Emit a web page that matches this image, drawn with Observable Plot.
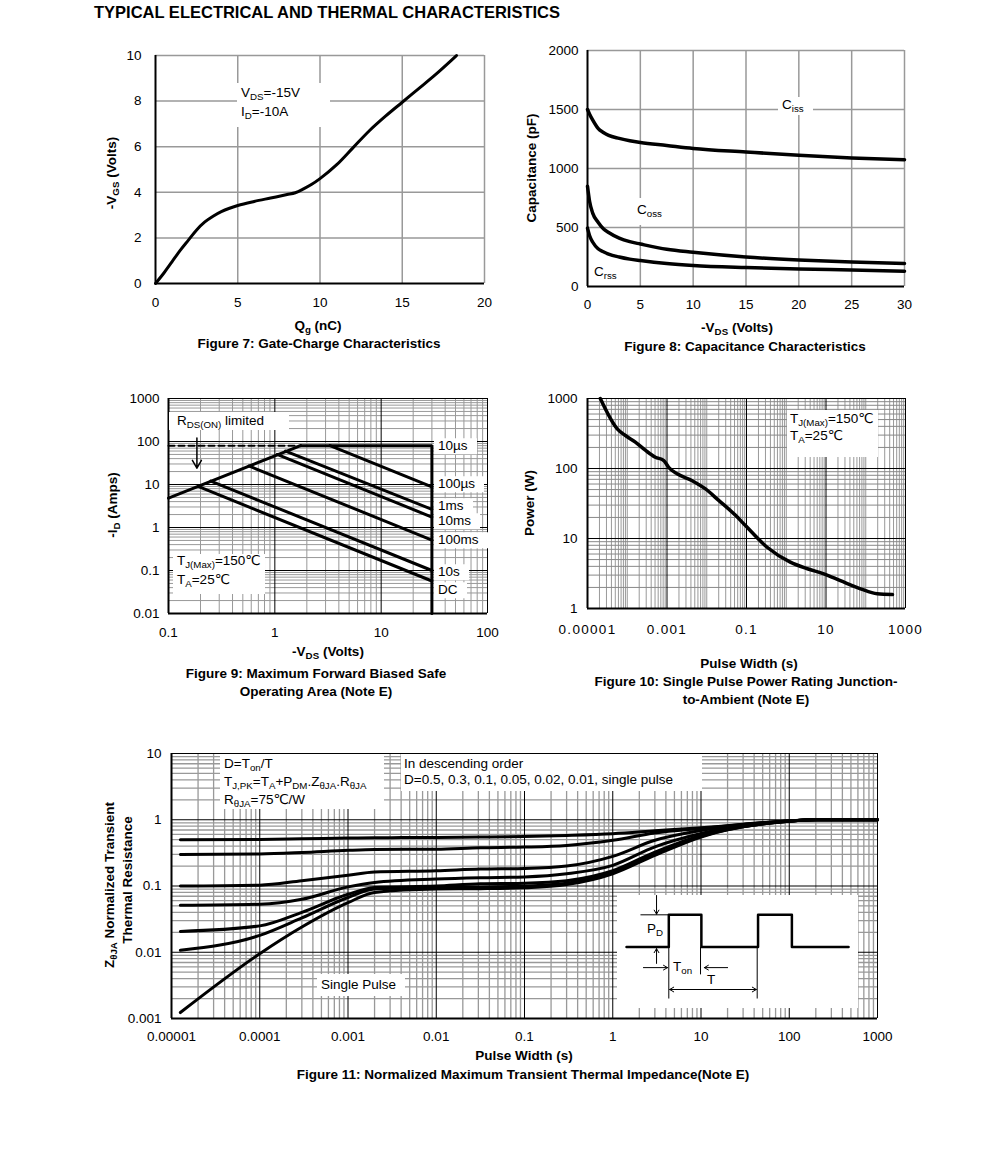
<!DOCTYPE html>
<html><head><meta charset="utf-8">
<script src="https://cdn.jsdelivr.net/npm/d3@7"></script>
<script src="https://cdn.jsdelivr.net/npm/@observablehq/plot@0.6"></script>
<style>
body{margin:0;background:#fff;}
#page{position:relative;width:991px;height:1151px;font-family:"Liberation Sans",Arial,"DejaVu Sans",sans-serif;color:#000;overflow:hidden;background:#fff;}
.t{position:absolute;white-space:nowrap;line-height:1;font-size:13.5px;}
.c{transform:translate(-50%,-50%);}
.l{transform:translate(0,-50%);}
.rot{transform:translate(-50%,-50%) rotate(-90deg);}
.b{font-weight:bold;}
.box{position:absolute;background:#fff;}
sub{font-size:0.72em;vertical-align:-0.3em;line-height:0;}
</style></head><body><div id="page"></div>
<script>
// ---------- DATA ----------
// Figure 7: Gate charge
const qgNC   = [0,0.5,1,1.5,2,2.5,3,3.5,4,4.5,5,6,7,8,8.5,9,9.5,10,11,12,13,14,15,16,17,18,18.3];
const vgsVolt= [0,0.45,0.95,1.45,1.9,2.35,2.7,2.95,3.15,3.3,3.42,3.6,3.75,3.9,3.98,4.15,4.35,4.6,5.2,5.95,6.7,7.35,7.95,8.55,9.15,9.8,10];
const fig7XTicks = [0,5,10,15,20];
const fig7YTicks = [0,2,4,6,8,10];

// Figure 8: Capacitance
const vdsCap = [0,0.2,0.5,1,1.5,2,3,4,5,7.5,10,15,20,25,30];
const cissPF = [1500,1460,1410,1340,1305,1280,1255,1235,1220,1195,1170,1140,1112,1090,1075];
const cossPF = [850,720,620,545,490,458,410,380,360,315,290,250,225,208,195];
const crssPF = [495,430,375,320,295,275,250,232,220,195,178,160,148,140,130];
const fig8XTicks = [0,5,10,15,20,25,30];
const fig8YTicks = [0,500,1000,1500,2000];

// Figure 9: Safe operating area  [V, I] end points
const soaRdsLine = [[0.1,4.8],[1.75,80]];
const soaRdsDash = [[0.1,80],[1.75,80]];
const soaLimit   = [[1.75,80],[30,80],[30,0.01]];
const soa100us   = [[3.3,80],[30,8.8]];
const soa1ms     = [[1.26,60],[30,2.65]];
const soa10ms    = [[1.05,50],[30,1.75]];
const soa100ms   = [[0.57,27],[30,0.51]];
const soa10s     = [[0.25,12],[30,0.1]];
const soaDC      = [[0.19,9],[30,0.057]];
const soaArrow   = [[0.185,120,0.185,24]];
const fig9XTicks = [0.1,1,10,100];
const fig9XLabels= ["0.1","1","10","100"];
const fig9YTicks = [0.01,0.1,1,10,100,1000];
const fig9YLabels= ["0.01","0.1","1","10","100","1000"];
const soaLabels  = ["10\u00b5s","100\u00b5s","1ms","10ms","100ms","10s","DC"];

// Figure 10: Single pulse power
const pulseWidthS = [2.1e-5,5.6e-5,9e-5,1.6e-4,2.9e-4,5.1e-4,8.3e-4,1.1e-3,1.8e-3,4.3e-3,9.3e-3,0.02,0.053,0.094,0.33,1.26,3.4,8.8,23,74,194,470];
const powerW      = [1000,369,296,238,181,145,130,104,84,67,51,35,21.4,15.3,7.5,4.6,3.7,3.13,2.5,1.91,1.62,1.58];
const fig10XTicks = [1e-5,1e-3,0.1,10,1000];
const fig10XLabels= ["0.00001","0.001","0.1","10","1000"];
const fig10YTicks = [1,10,100,1000];
const fig10YLabels= ["1","10","100","1000"];

// Figure 11: Transient thermal impedance
const zTime   = [1.26e-5,1e-4,3e-4,1e-3,2e-3,0.01,0.0316,0.1,0.3,1,3,10,100,200,1000];
const zD05    = [0.5,0.505,0.515,0.53,0.535,0.54,0.547,0.56,0.58,0.615,0.68,0.76,0.96,1.0,1.0];
const zD03    = [0.3,0.305,0.32,0.345,0.355,0.36,0.378,0.387,0.41,0.49,0.63,0.74,0.96,1.0,1.0];
const zD01    = [0.1,0.103,0.12,0.145,0.163,0.17,0.18,0.184,0.2,0.28,0.49,0.69,0.96,1.0,1.0];
const zD005   = [0.051,0.053,0.063,0.097,0.113,0.127,0.133,0.137,0.153,0.205,0.39,0.62,0.96,1.0,1.0];
const zD002   = [0.0206,0.025,0.04,0.075,0.095,0.1,0.108,0.11,0.12,0.17,0.325,0.58,0.95,1.0,1.0];
const zD001   = [0.0107,0.018,0.033,0.067,0.09,0.095,0.096,0.1,0.11,0.16,0.31,0.56,0.95,1.0,1.0];
const zSingle = [0.00123,0.0095,0.024,0.056,0.08,0.09,0.091,0.094,0.105,0.153,0.29,0.55,0.95,1.0,1.0];
const fig11XTicks = [1e-5,1e-4,1e-3,0.01,0.1,1,10,100,1000];
const fig11XLabels= ["0.00001","0.0001","0.001","0.01","0.1","1","10","100","1000"];
const fig11YTicks = [0.001,0.01,0.1,1,10];
const fig11YLabels= ["0.001","0.01","0.1","1","10"];

// Figure 11 inset (schematic units)
const pulseT = [0,1,1,1.77,1.77,3.11,3.11,3.91,3.91,5.25];
const pulseP = [0,0,1,1,0,0,1,1,0,0];
const insetGuides = [[1,-1.6,1,0],[1.75,-0.85,1.75,0],[3.09,-1.6,3.09,0],[0.33,1,1,1]];
const insetArrows = [[0.71,1.6,0.71,1.02],[0.71,-0.51,0.71,-0.05],[0.40,-0.64,0.97,-0.64],[2.39,-0.64,1.84,-0.64],[2.05,-1.32,1.02,-1.32],[2.05,-1.32,3.07,-1.32]];

// ---------- HELPERS ----------
const page = document.getElementById("page");
const FONT = '"Liberation Sans", Arial, "DejaVu Sans", sans-serif';
const baseStyle = {fontFamily: FONT, fontSize: "13.5px", background: "transparent", overflow: "visible", color: "#000"};
function place(svg, left, top) {
  svg.style.position = "absolute"; svg.style.left = left + "px"; svg.style.top = top + "px";
  page.appendChild(svg); return svg;
}
function txt(html, x, y, cls, extra) {
  const d = document.createElement("div");
  d.className = "t " + (cls || "");
  d.style.left = x + "px"; d.style.top = y + "px";
  if (extra) Object.assign(d.style, extra);
  d.innerHTML = html; page.appendChild(d); return d;
}
function box(x1, y1, x2, y2) {
  const d = document.createElement("div");
  d.className = "box";
  Object.assign(d.style, {left: x1 + "px", top: y1 + "px", width: (x2 - x1) + "px", height: (y2 - y1) + "px"});
  page.appendChild(d); return d;
}
function logMinor(lo, hi) {
  const out = [];
  for (let e = Math.round(Math.log10(lo)); e < Math.round(Math.log10(hi)); e++) {
    for (let k = 1; k <= 9; k++) out.push(k * Math.pow(10, e));
  }
  out.push(hi);
  return out;
}
const fmt = (ticks, labels) => d => { const i = ticks.findIndex(t => Math.abs(t - d) / t < 1e-6 || t === d); return i >= 0 ? labels[i] : ""; };
const plain = d => String(d);

// ---------- TITLE ----------
txt("TYPICAL ELECTRICAL AND THERMAL CHARACTERISTICS", 94, 12, "l b", {fontSize: "16.5px"});

// ---------- FIGURE 7 ----------
const gateData = qgNC.map((q, i) => ({q, v: vgsVolt[i]}));
place(Plot.plot({
  width: 400, height: 280, marginLeft: 55, marginRight: 16, marginTop: 15, marginBottom: 37,
  x: {domain: [0, 20]}, y: {domain: [0, 10]}, style: baseStyle,
  marks: [
    Plot.ruleX(fig7XTicks.filter(d => d > 0), {stroke: "#999", strokeWidth: 1.5}),
    Plot.ruleY(fig7YTicks.filter(d => d > 0), {stroke: "#999", strokeWidth: 1.5}),
    Plot.ruleX([0], {stroke: "#000", strokeWidth: 2}),
    Plot.ruleY([0], {stroke: "#000", strokeWidth: 2}),
    Plot.axisX(fig7XTicks, {tickSize: 0, tickPadding: 14, label: null, tickFormat: plain}),
    Plot.axisY(fig7YTicks, {tickSize: 0, tickPadding: 14, label: null, tickFormat: plain}),
    Plot.line(gateData, {x: "q", y: "v", stroke: "#000", strokeWidth: 3, strokeLinejoin: "round", curve: "monotone-x"})
  ]
}), 100, 40);
box(237, 83, 330, 127);
txt("V<sub>DS</sub>=-15V", 241, 93, "l");
txt("I<sub>D</sub>=-10A", 241, 112, "l");
txt("-V<sub>GS</sub> (Volts)", 112, 173, "rot b");
txt("Q<sub>g</sub> (nC)", 318, 326, "c b");
txt("Figure 7: Gate-Charge Characteristics", 319, 344, "c b");

// ---------- FIGURE 8 ----------
const capData = [
  ...vdsCap.map((v, i) => ({v, c: cissPF[i], s: "Ciss"})),
  ...vdsCap.map((v, i) => ({v, c: cossPF[i], s: "Coss"})),
  ...vdsCap.map((v, i) => ({v, c: crssPF[i], s: "Crss"}))
];
place(Plot.plot({
  width: 400, height: 280, marginLeft: 67, marginRight: 16, marginTop: 10, marginBottom: 34,
  x: {domain: [0, 30]}, y: {domain: [0, 2000]}, style: baseStyle,
  marks: [
    Plot.ruleX(fig8XTicks.filter(d => d > 0), {stroke: "#999", strokeWidth: 1.5}),
    Plot.ruleY(fig8YTicks.filter(d => d > 0), {stroke: "#999", strokeWidth: 1.5}),
    Plot.ruleX([0], {stroke: "#000", strokeWidth: 2}),
    Plot.ruleY([0], {stroke: "#000", strokeWidth: 2}),
    Plot.axisX(fig8XTicks, {tickSize: 0, tickPadding: 13, label: null, tickFormat: plain}),
    Plot.axisY(fig8YTicks, {tickSize: 0, tickPadding: 9, label: null, tickFormat: plain}),
    Plot.line(capData, {x: "v", y: "c", z: "s", stroke: "#000", strokeWidth: 3.5, curve: "monotone-x"})
  ]
}), 520, 40);
box(778, 97, 813, 115);
txt("C<sub>iss</sub>", 782, 105, "l");
box(634, 198, 665, 225);
txt("C<sub>oss</sub>", 637, 210, "l");
txt("C<sub>rss</sub>", 594, 272, "l");
txt("Capacitance (pF)", 532, 168, "rot b");
txt("-V<sub>DS</sub> (Volts)", 737, 328, "c b");
txt("Figure 8: Capacitance Characteristics", 745, 347, "c b");

// ---------- FIGURE 9 ----------
const soaCurves = [soaRdsLine, soa100us, soa1ms, soa10ms, soa100ms, soa10s, soaDC, soaLimit];
const soaRows = soaCurves.flatMap((c, k) => c.map(p => ({v: p[0], i: p[1], k})));
const f9xMinor = logMinor(0.1, 100).filter(d => !fig9XTicks.some(t => Math.abs(t - d) / t < 1e-9));
const f9yMinor = logMinor(0.01, 1000).filter(d => !fig9YTicks.some(t => Math.abs(t - d) / t < 1e-9));
place(Plot.plot({
  width: 400, height: 260, marginLeft: 68, marginRight: 13, marginTop: 13, marginBottom: 32,
  x: {type: "log", domain: [0.1, 100]}, y: {type: "log", domain: [0.01, 1000]}, style: baseStyle,
  marks: [
    Plot.ruleX(f9xMinor, {stroke: "#999", strokeWidth: 1}),
    Plot.ruleY(f9yMinor, {stroke: "#999", strokeWidth: 1}),
    Plot.ruleX(fig9XTicks, {stroke: "#000", strokeWidth: 1}),
    Plot.ruleY(fig9YTicks, {stroke: "#000", strokeWidth: 1}),
    Plot.ruleX([0.1], {stroke: "#000", strokeWidth: 2}),
    Plot.ruleY([0.01], {stroke: "#000", strokeWidth: 2}),
    Plot.axisX(fig9XTicks, {tickSize: 0, tickPadding: 14, label: null, tickFormat: fmt(fig9XTicks, fig9XLabels)}),
    Plot.axisY(fig9YTicks, {tickSize: 0, tickPadding: 9, label: null, tickFormat: fmt(fig9YTicks, fig9YLabels)}),
    Plot.line(soaRdsDash, {x: d => d[0], y: d => d[1], stroke: "#000", strokeWidth: 2, strokeDasharray: "6,4"}),
    Plot.line(soaRows, {x: "v", y: "i", z: "k", stroke: "#000", strokeWidth: 3, strokeLinejoin: "miter"}),
    Plot.arrow(soaArrow, {x1: d => d[0], y1: d => d[1], x2: d => d[2], y2: d => d[3], stroke: "#000", strokeWidth: 1.5, headLength: 9})
  ]
}), 100, 385);
box(169, 412, 289, 430);
txt("R<sub>DS(ON)</sub> limited", 177, 421, "l");
const soaLabelY = [446, 484, 506, 521, 540, 572, 590];
soaLabels.forEach((s, i) => txt(s, 434, soaLabelY[i], "l", {background: "#fff", padding: "1px 9px 1px 4px"}));
box(173, 554, 265, 594);
txt("T<sub>J(Max)</sub>=150\u2103", 177, 561, "l");
txt("T<sub>A</sub>=25\u2103", 177, 580, "l");
txt("-I<sub>D</sub> (Amps)", 113, 505, "rot b");
txt("-V<sub>DS</sub> (Volts)", 328, 652, "c b");
txt("Figure 9: Maximum Forward Biased Safe", 316, 674, "c b");
txt("Operating Area (Note E)", 316, 692, "c b");

// ---------- FIGURE 10 ----------
const powerData = pulseWidthS.map((t, i) => ({t, p: powerW[i]}));
const f10xMinor = logMinor(1e-5, 1000).filter(d => !fig10XTicks.some(t => Math.abs(t - d) / t < 1e-9));
const f10yMinor = logMinor(1, 1000).filter(d => !fig10YTicks.includes(d));
const fig10 = place(Plot.plot({
  width: 400, height: 260, marginLeft: 67, marginRight: 15, marginTop: 13, marginBottom: 37,
  x: {type: "log", domain: [1e-5, 1000]}, y: {type: "log", domain: [1, 1000]}, style: baseStyle,
  marks: [
    Plot.ruleX(f10xMinor, {stroke: "#999", strokeWidth: 1}),
    Plot.ruleY(f10yMinor, {stroke: "#888", strokeWidth: 1}),
    Plot.ruleX(fig10XTicks, {stroke: "#000", strokeWidth: 1}),
    Plot.ruleY(fig10YTicks, {stroke: "#000", strokeWidth: 1}),
    Plot.ruleX([1e-5], {stroke: "#000", strokeWidth: 2}),
    Plot.ruleY([1], {stroke: "#000", strokeWidth: 2}),
    Plot.axisX(fig10XTicks, {tickSize: 0, tickPadding: 16, label: null, tickFormat: fmt(fig10XTicks, fig10XLabels)}),
    Plot.axisY(fig10YTicks, {tickSize: 0, tickPadding: 10, label: null, tickFormat: fmt(fig10YTicks, fig10YLabels)}),
    Plot.line(powerData, {x: "t", y: "p", stroke: "#000", strokeWidth: 3.5, curve: "monotone-x"})
  ]
}), 520, 385);
const f10lab = fig10.querySelector('[aria-label="x-axis tick label"]');
if (f10lab) f10lab.style.letterSpacing = "1.3px";
box(787, 410, 878, 457);
txt("T<sub>J(Max)</sub>=150\u2103", 790, 419, "l");
txt("T<sub>A</sub>=25\u2103", 790, 436, "l");
txt("Power (W)", 530, 503, "rot b");
txt("Pulse Width (s)", 749, 664, "c b");
txt("Figure 10: Single Pulse Power Rating Junction-", 746, 682, "c b");
txt("to-Ambient (Note E)", 746, 700, "c b");

// ---------- FIGURE 11 ----------
const zSeries = [["0.5", zD05], ["0.3", zD03], ["0.1", zD01], ["0.05", zD005], ["0.02", zD002], ["0.01", zD001], ["single", zSingle]];
const zRows = zSeries.flatMap(([d, ys]) => zTime.map((t, i) => ({t, z: ys[i], d})));
const f11xMinor = logMinor(1e-5, 1000).filter(d => !fig11XTicks.some(t => Math.abs(t - d) / t < 1e-9));
const f11yMinor = logMinor(0.001, 10).filter(d => !fig11YTicks.some(t => Math.abs(t - d) / t < 1e-9));
place(Plot.plot({
  width: 800, height: 300, marginLeft: 71, marginRight: 23, marginTop: 13, marginBottom: 22,
  x: {type: "log", domain: [1e-5, 1000]}, y: {type: "log", domain: [0.001, 10]}, style: baseStyle,
  marks: [
    Plot.ruleX(f11xMinor, {stroke: "#999", strokeWidth: 1.3}),
    Plot.ruleY(f11yMinor, {stroke: "#999", strokeWidth: 1.3}),
    Plot.ruleX(fig11XTicks, {stroke: "#000", strokeWidth: 1}),
    Plot.ruleY(fig11YTicks, {stroke: "#000", strokeWidth: 1}),
    Plot.ruleX([1e-5], {stroke: "#000", strokeWidth: 2}),
    Plot.ruleY([0.001], {stroke: "#000", strokeWidth: 2}),
    Plot.axisX(fig11XTicks, {tickSize: 0, tickPadding: 13, label: null, tickFormat: fmt(fig11XTicks, fig11XLabels)}),
    Plot.axisY(fig11YTicks, {tickSize: 0, tickPadding: 10, label: null, tickFormat: fmt(fig11YTicks, fig11YLabels)}),
    Plot.line(zRows, {x: "t", y: "z", z: "d", stroke: "#000", strokeWidth: 3, curve: "monotone-x"})
  ]
}), 100, 740);
box(220, 754, 384, 809);
txt("D=T<sub>on</sub>/T", 224, 764, "l");
txt("T<sub>J,PK</sub>=T<sub>A</sub>+P<sub>DM</sub>.Z<sub>\u03b8JA</sub>.R<sub>\u03b8JA</sub>", 224, 782, "l");
txt("R<sub>\u03b8JA</sub>=75\u2103/W", 224, 800, "l");
box(401, 754, 702, 791);
txt("In descending order", 404, 764, "l");
txt("D=0.5, 0.3, 0.1, 0.05, 0.02, 0.01, single pulse", 404, 780, "l");
box(317, 974, 405, 996);
txt("Single Pulse", 321, 985, "l");

// inset
const pulseRows = pulseT.map((t, i) => ({t, p: pulseP[i]}));
place(Plot.plot({
  width: 241, height: 113, marginLeft: 0, marginRight: 0, marginTop: 0, marginBottom: 0,
  x: {domain: [-0.213, 5.485], axis: null}, y: {domain: [-1.91, 1.6], axis: null},
  style: {...baseStyle, background: "#fff", overflow: "hidden"},
  marks: [
    Plot.link(insetGuides, {x1: d => d[0], y1: d => d[1], x2: d => d[2], y2: d => d[3], stroke: "#000", strokeWidth: 1}),
    Plot.line(pulseRows, {x: "t", y: "p", stroke: "#000", strokeWidth: 2.5}),
    Plot.arrow(insetArrows, {x1: d => d[0], y1: d => d[1], x2: d => d[2], y2: d => d[3], stroke: "#000", strokeWidth: 1, headLength: 7})
  ]
}), 617, 895);
txt("P<sub>D</sub>", 647, 929, "l", {fontSize: "13.5px"});
txt("T<sub>on</sub>", 673, 967, "l", {fontSize: "13.5px"});
txt("T", 707, 980, "l", {fontSize: "13.5px"});

txt("Z<sub>\u03b8JA</sub> Normalized Transient", 110, 885, "rot b");
txt("Thermal Resistance", 128, 880, "rot b");
txt("Pulse Width (s)", 524, 1056, "c b");
txt("Figure 11: Normalized Maximum Transient Thermal Impedance(Note E)", 523, 1075, "c b");
</script></body></html>
